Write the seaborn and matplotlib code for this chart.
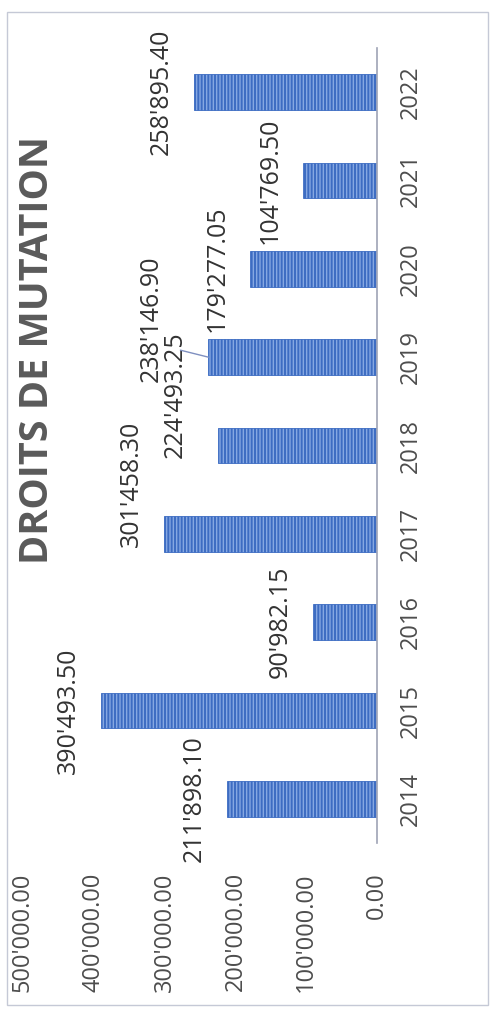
import matplotlib
matplotlib.use("Agg")
import matplotlib.pyplot as plt
from matplotlib.patches import Rectangle
from matplotlib.ticker import FuncFormatter
import seaborn as sns
import pandas as pd

years = ["2014", "2015", "2016", "2017", "2018", "2019", "2020", "2021", "2022"]
values = [211898.10, 390493.50, 90982.15, 301458.30, 224493.25,
          238146.90, 179277.05, 104769.50, 258895.40]
value_ticks = [0, 100000, 200000, 300000, 400000, 500000]
title = "DROITS DE MUTATION"

# manual nudges of some data labels (category units / pixels)
label_dy = [0, 0, 0, 0.56, 0.58, 0.44, 0, 0, 0]
label_dx = [0, 0, 0, 0, 10, 25, 0, 0, 0]


def swiss(v):
    return f"{v:,.2f}".replace(",", "'")


def main():
    sns.set_style("white")
    plt.rcParams["font.family"] = ["Open Sans", "DejaVu Sans"]
    plt.rcParams["hatch.linewidth"] = 1.4

    df = pd.DataFrame({"year": years, "value": values})

    fig = plt.figure(figsize=(4.95, 10.13), dpi=100)
    ax = fig.add_axes([23 / 495, 170 / 1013, 354 / 495, 795 / 1013])

    sns.barplot(data=df, x="value", y="year", order=years, orient="h",
                color="#86a8e2", edgecolor="#3d6cc2", linewidth=0.6,
                hatch="|||||", width=0.4, saturation=1, ax=ax)

    ax.set_xlim(500000, 0)
    ax.set_ylim(-0.5, 8.5)
    ax.set_xticks(value_ticks)
    ax.xaxis.set_major_formatter(FuncFormatter(lambda v, p: swiss(v)))
    ax.set_xlabel("")
    ax.set_ylabel("")

    for s in ["top", "bottom", "left"]:
        ax.spines[s].set_visible(False)
    ax.spines["right"].set_color("#9ea3b5")
    ax.spines["right"].set_linewidth(1.2)

    ax.yaxis.tick_right()
    ax.tick_params(axis="y", length=0, pad=16, labelsize=17,
                   labelcolor="#4d4d4d")
    for t in ax.get_yticklabels():
        t.set_rotation(90)
        t.set_va("center")
        t.set_ha("left")
    ax.tick_params(axis="x", length=0, pad=21, labelsize=17,
                   labelcolor="#4d4d4d")
    for t in ax.get_xticklabels():
        t.set_rotation(90)
        t.set_va("top")
        t.set_ha("center")

    for i, v in enumerate(values):
        ax.annotate(swiss(v), xy=(v, i + label_dy[i]),
                    xytext=(-20 - label_dx[i], 0), textcoords="offset pixels",
                    rotation=90, ha="right", va="center",
                    fontsize=18, color="#333333")

    # leader line for 2019
    ax.annotate("", xy=(values[5], 5), xytext=(-28, 7),
                textcoords="offset pixels",
                arrowprops=dict(arrowstyle="-", color="#7f8fc0", lw=1,
                                shrinkA=0, shrinkB=0))

    fig.text(38 / 495, 1 - 350 / 1013, title, rotation=90, ha="center",
             va="center", fontsize=28.5, fontweight="bold", color="#5a5a5a")

    fig.patches.append(Rectangle((7 / 495, 1 - 1005 / 1013), 481 / 495,
                                 993 / 1013, transform=fig.transFigure,
                                 fill=False, ec="#c5c9d6", lw=1))

    fig.savefig("out.png", dpi=100)
    plt.close(fig)


if __name__ == "__main__":
    main()
